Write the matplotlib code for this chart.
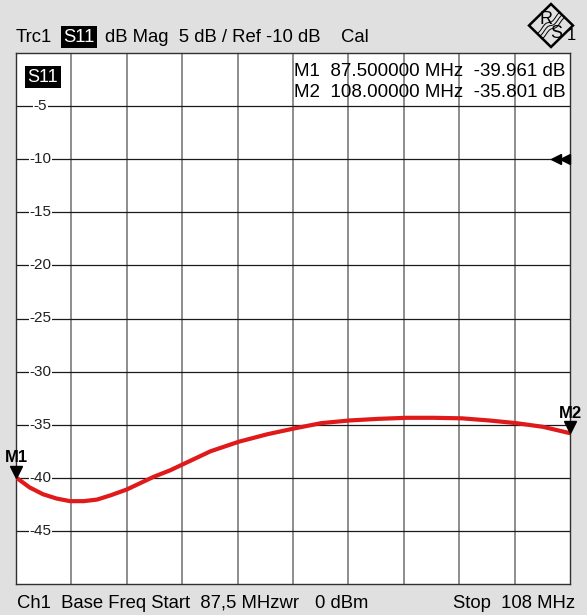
import matplotlib
matplotlib.use("Agg")
import matplotlib.pyplot as plt
from matplotlib.patches import Polygon
import numpy as np

plt.rcParams['font.family'] = ['Liberation Sans', 'DejaVu Sans']

# trace S11
freq_mhz = [87.5, 88.0, 88.5, 89.0, 89.5, 90.0, 90.5, 91.0, 91.6, 92.1, 92.6, 93.2, 93.7,
            94.7, 95.75, 96.8, 97.8, 98.8, 99.85, 100.9, 101.95, 102.95, 104.0, 105.0,
            106.0, 107.0, 108.0]
s11_db = [-39.96, -40.9, -41.55, -41.95, -42.2, -42.2, -42.05, -41.65, -41.1, -40.5,
          -39.9, -39.3, -38.7, -37.5, -36.6, -35.9, -35.35, -34.85, -34.6, -34.45,
          -34.35, -34.35, -34.4, -34.6, -34.85, -35.2, -35.8]

y_ticks = [-5, -10, -15, -20, -25, -30, -35, -40, -45]
markers = [("M1", 87.5, -39.961), ("M2", 108.0, -35.801)]
ref_level = -10

W, H = 587, 615
fig = plt.figure(figsize=(W / 100, H / 100), dpi=100, facecolor="#e0e0e0")
x0, x1, y0, y1 = 16, 570, 53, 584
ax = fig.add_axes([x0 / W, 1 - y1 / H, (x1 - x0) / W, (y1 - y0) / H])
ax.set_xlim(87.5, 108)
ax.set_ylim(-50, 0)
ax.set_xticks([])
ax.set_yticks([])
for xv in np.linspace(87.5, 108, 11)[1:-1]:
    ax.axvline(xv, color="#858585", lw=1.3, zorder=1)
for yv in np.arange(-45, 0, 5):
    ax.axhline(yv, color="#1a1a1a", lw=0.9, zorder=1)
for s in ax.spines.values():
    s.set_color("#303030")
    s.set_linewidth(1.0)

# scale labels inside the diagram
for v in y_ticks:
    ax.text(0.044, v, str(v), transform=ax.get_yaxis_transform(), ha="center", va="center",
            fontsize=11, color="#202020", zorder=3,
            bbox=dict(facecolor="white", edgecolor="none", pad=0.5))

ax.plot(freq_mhz, s11_db, color="#e01a1a", lw=3.0, solid_capstyle="round",
        solid_joinstyle="round", zorder=4)

for name, f, v in markers:
    ax.plot(f, v + 0.55, marker="v", markersize=9, color="black", clip_on=False, zorder=5)
    ax.annotate(name, (f, v), xytext=(0, 11), textcoords="offset points", ha="center",
                va="baseline", fontsize=12, fontweight="bold", annotation_clip=False)

# reference level arrows
ax.plot([0.974, 0.991], [ref_level, ref_level], ls="none", marker="<", markersize=7,
        color="black", transform=ax.get_yaxis_transform(), clip_on=False, zorder=5)

# marker readout
info = ["M1  87.500000 MHz  -39.961 dB", "M2  108.00000 MHz  -35.801 dB"]
for i, t in enumerate(info):
    fig.text(294 / W, 1 - (72 + 20.5 * i) / H, t, ha="left", va="center", fontsize=13.5, zorder=6)

# S11 tag inside diagram
fig.text(43 / W, 1 - 77 / H, "S11", ha="center", va="center", fontsize=13, color="white",
         bbox=dict(facecolor="black", edgecolor="none", pad=1.8))

# header
fig.text(16 / W, 1 - 37 / H, "Trc1", ha="left", va="center", fontsize=13.3)
fig.text(79 / W, 1 - 37 / H, "S11", ha="center", va="center", fontsize=13.3, color="white",
         bbox=dict(facecolor="black", edgecolor="none", pad=1.8))
fig.text(105 / W, 1 - 37 / H, "dB Mag  5 dB / Ref -10 dB", ha="left", va="center", fontsize=13.3)
fig.text(341 / W, 1 - 37 / H, "Cal", ha="left", va="center", fontsize=13.3)

# footer
fig.text(17 / W, 1 - 603 / H, "Ch1  Base Freq Start  87,5 MHzwr", ha="left", va="center", fontsize=13.3)
fig.text(315 / W, 1 - 603 / H, "0 dBm", ha="left", va="center", fontsize=13.3)
fig.text(575 / W, 1 - 603 / H, "Stop  108 MHz", ha="right", va="center", fontsize=13.3)

# R&S logo
cx, cy, rx, ry = 551, 25.5, 22, 21.5
logo = Polygon([((cx - rx) / W, 1 - cy / H), (cx / W, 1 - (cy - ry) / H),
                ((cx + rx) / W, 1 - cy / H), (cx / W, 1 - (cy + ry) / H)],
               closed=True, fill=False, edgecolor="black", lw=1.8, transform=fig.transFigure)
fig.patches.append(logo)
fig.text((cx - 5) / W, 1 - (cy - 6) / H, "R", ha="center", va="center", fontsize=13)
fig.text((cx + 5) / W, 1 - (cy + 8) / H, "S", ha="center", va="center", fontsize=13)
for k in (-3, 0, 3):
    t = np.linspace(-1, 1, 20)
    px = cx + 11 * t + k * 0.7
    py = cy - 9 * t + 1.5 * np.sin(t * 5) + k
    fig.lines.append(plt.Line2D(px / W, 1 - py / H, color="black", lw=0.7,
                                transform=fig.transFigure))
fig.text(571 / W, 1 - 36 / H, "1", ha="center", va="center", fontsize=12)

fig.savefig("out.png", dpi=100, facecolor=fig.get_facecolor())
